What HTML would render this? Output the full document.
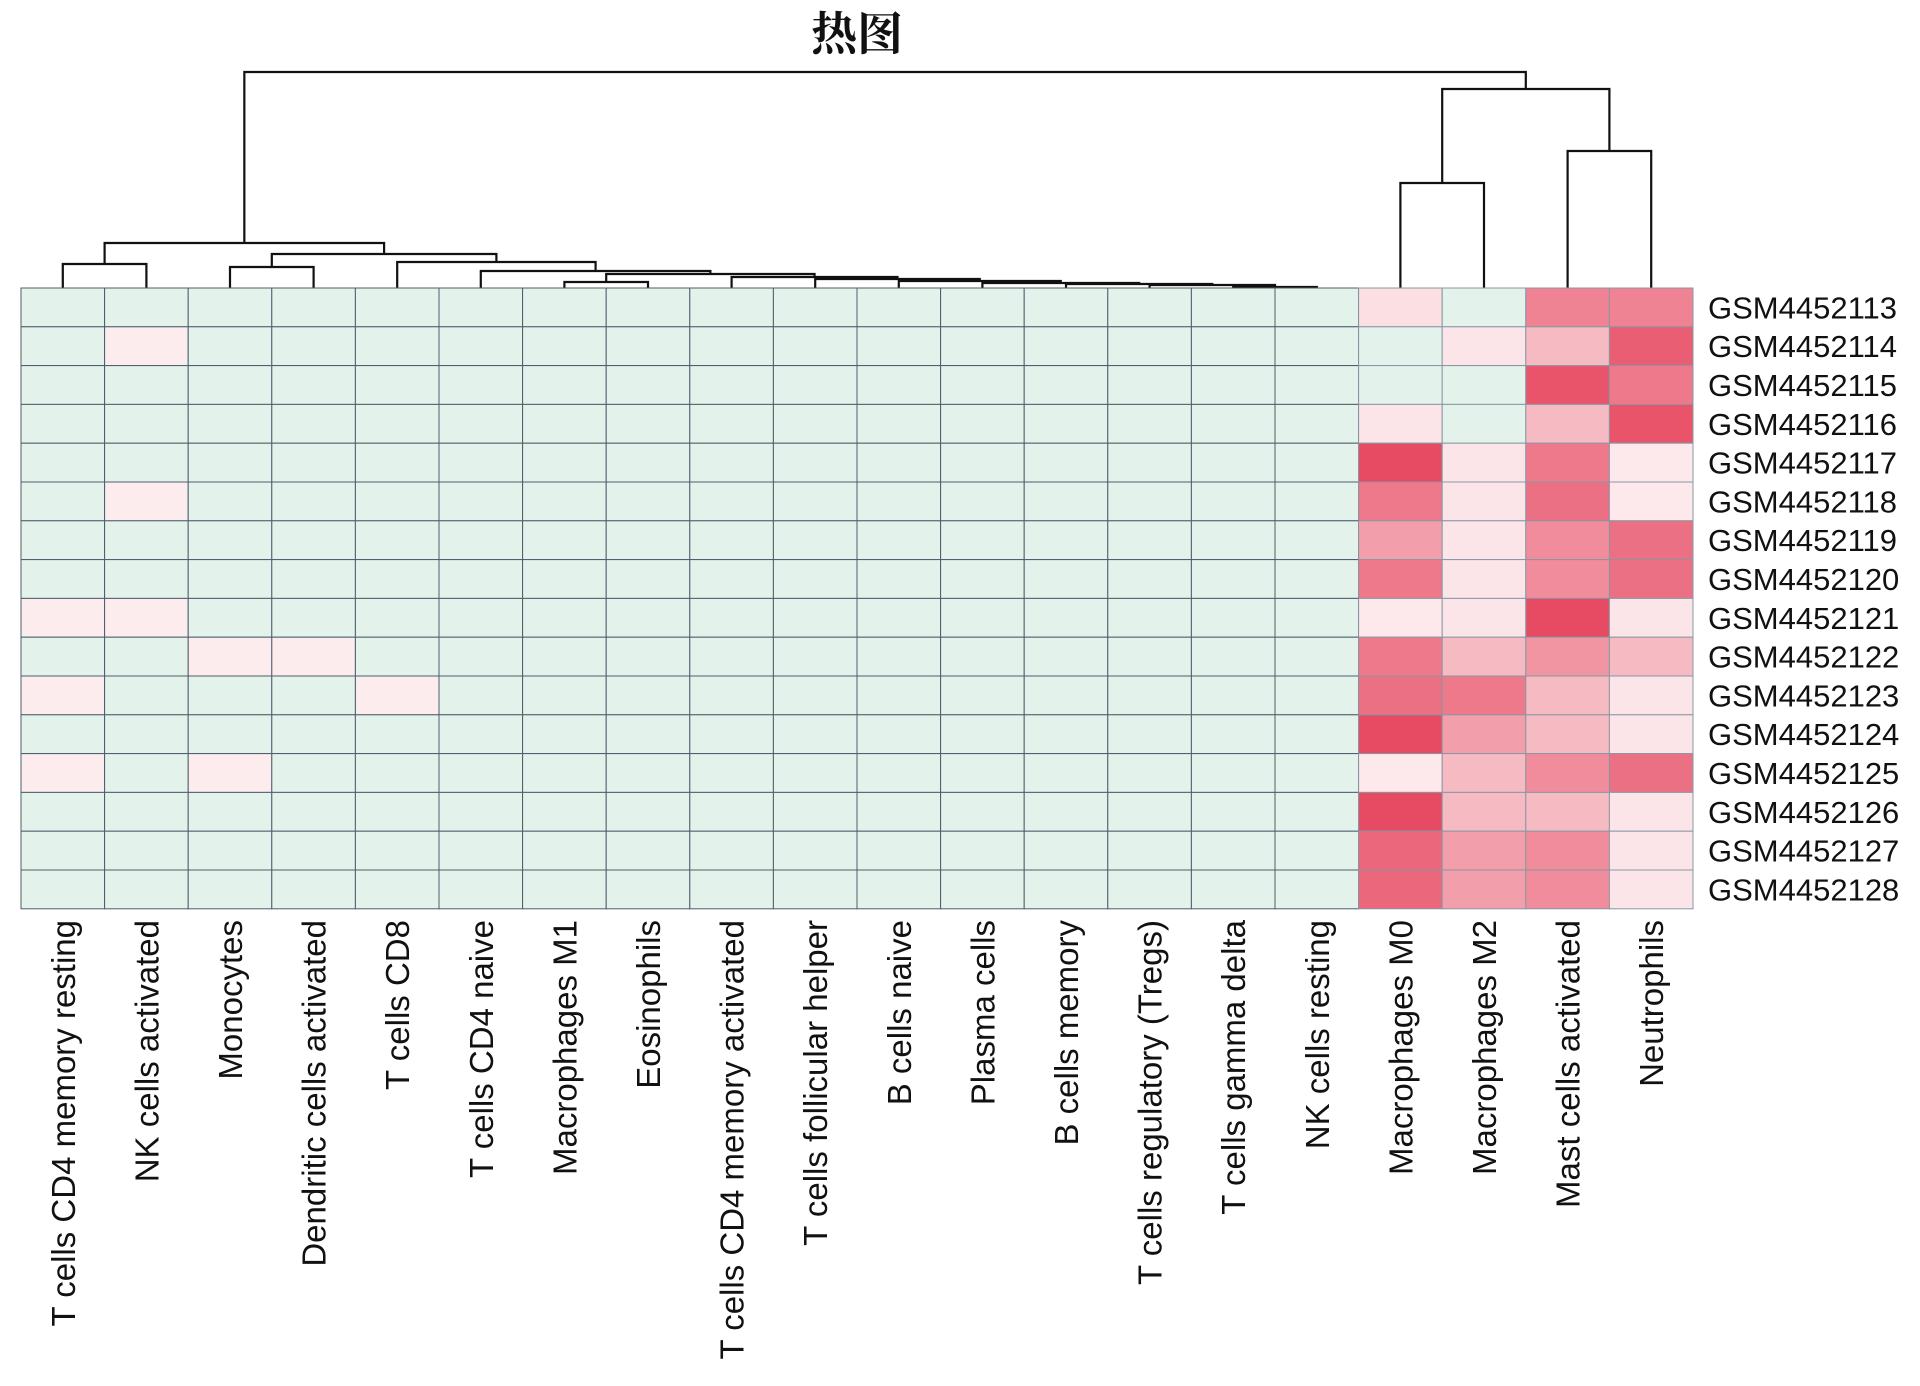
<!DOCTYPE html>
<html><head><meta charset="utf-8"><style>
html,body{margin:0;padding:0;background:#fff;}
svg{display:block;}
text{font-family:"Liberation Sans","Noto Sans CJK SC",sans-serif;fill:#111;}
</style></head><body>
<svg id="chart" width="1920" height="1386" viewBox="0 0 1920 1386" xmlns="http://www.w3.org/2000/svg">
<text x="857" y="50" text-anchor="middle" style="font-family:'Liberation Serif','Noto Serif CJK SC',serif;font-weight:bold;font-size:46px;">热图</text>
<g id="dendro"></g>
<g id="cells"></g>
<g id="rowlabels"></g>
<g id="collabels"></g>
</svg>
<script>
const columns = ["T cells CD4 memory resting","NK cells activated","Monocytes","Dendritic cells activated","T cells CD8","T cells CD4 naive","Macrophages M1","Eosinophils","T cells CD4 memory activated","T cells follicular helper","B cells naive","Plasma cells","B cells memory","T cells regulatory (Tregs)","T cells gamma delta","NK cells resting","Macrophages M0","Macrophages M2","Mast cells activated","Neutrophils"];
const rows = ["GSM4452113","GSM4452114","GSM4452115","GSM4452116","GSM4452117","GSM4452118","GSM4452119","GSM4452120","GSM4452121","GSM4452122","GSM4452123","GSM4452124","GSM4452125","GSM4452126","GSM4452127","GSM4452128"];
// values for the 4 right-most columns (M0, M2, Mast activated, Neutrophils) per row
const colM0   = [0.15,0,0,0.12,0.95,0.7,0.5,0.7,0.1,0.7,0.75,0.95,0.1,0.95,0.8,0.8];
const colM2   = [0,0.12,0,0,0.12,0.12,0.12,0.12,0.12,0.35,0.7,0.5,0.35,0.35,0.5,0.5];
const colMast = [0.65,0.35,0.9,0.35,0.7,0.75,0.6,0.6,0.95,0.55,0.35,0.35,0.6,0.35,0.6,0.6];
const colNeut = [0.65,0.85,0.7,0.9,0.1,0.1,0.75,0.75,0.12,0.35,0.12,0.12,0.75,0.12,0.12,0.12];
// faint pink cells elsewhere: [row, col, value]
const faintCells = [[1,1,0.08],[5,1,0.08],[8,0,0.08],[8,1,0.08],[9,2,0.08],[9,3,0.08],[10,0,0.08],[10,4,0.08],[12,0,0.08],[12,2,0.08]];
// dendrogram merges: [left, right, height(px y)] ; nodes >=20 refer to earlier merges (20 + index)
const merges = [
 [0,1,264],[2,3,267],[6,7,282],[14,15,287],[13,23,285],[12,24,284],[11,25,283],[10,26,281],[9,27,279],[8,28,277],[22,29,274],[5,30,271],[4,31,262],[21,32,254],[20,33,243],[16,17,183],[18,19,151],[35,36,89],[34,37,72]
];

const X0=21, Y0=288, CW=83.6, RH=38.8;
const xScale = i => X0 + i*CW;
const yScale = r => Y0 + r*RH;
const NS="http://www.w3.org/2000/svg";

function colorFor(v){
  if(v<=0) return "rgb(227,242,234)";
  const a=[253,236,238], b=[230,66,91];
  const t=Math.min(1,Math.max(0,(v-0.08)/0.92));
  return `rgb(${Math.round(a[0]+(b[0]-a[0])*t)},${Math.round(a[1]+(b[1]-a[1])*t)},${Math.round(a[2]+(b[2]-a[2])*t)})`;
}
const matrix = rows.map(()=>columns.map(()=>0));
faintCells.forEach(([r,c,v])=>{matrix[r][c]=v;});
rows.forEach((_,r)=>{matrix[r][16]=colM0[r];matrix[r][17]=colM2[r];matrix[r][18]=colMast[r];matrix[r][19]=colNeut[r];});

const cells=document.getElementById('cells');
rows.forEach((rn,r)=>{
  columns.forEach((cn,c)=>{
    const el=document.createElementNS(NS,'rect');
    el.setAttribute('x',xScale(c));el.setAttribute('y',yScale(r));
    el.setAttribute('width',CW);el.setAttribute('height',RH);
    el.setAttribute('fill',colorFor(matrix[r][c]));
    el.setAttribute('stroke',c>=16?'#8a97a3':'#4d5e6c');el.setAttribute('stroke-width','1');
    
    
    cells.appendChild(el);
  });
});

const rl=document.getElementById('rowlabels');
rows.forEach((rn,r)=>{
  const t=document.createElementNS(NS,'text');
  t.setAttribute('x',1708);t.setAttribute('y',yScale(r)+RH/2+11);
  t.setAttribute('font-size','31');
  t.textContent=rn;
  
  
  rl.appendChild(t);
});
const cl=document.getElementById('collabels');
columns.forEach((cn,c)=>{
  const cx=xScale(c)+CW/2+12, cy=920;
  const t=document.createElementNS(NS,'text');
  t.setAttribute('x',cx);t.setAttribute('y',cy);
  t.setAttribute('font-size','33');
  t.setAttribute('text-anchor','end');
  t.setAttribute('transform',`rotate(-90 ${cx} ${cy})`);
  t.textContent=cn;
  
  
  cl.appendChild(t);
});

const dg=document.getElementById('dendro');
const nodeX=[],nodeY=[];
columns.forEach((_,c)=>{nodeX[c]=xScale(c)+CW/2;nodeY[c]=Y0;});
merges.forEach(([a,b,h],i)=>{
  const id=20+i;
  nodeX[id]=(nodeX[a]+nodeX[b])/2;nodeY[id]=h;
  const p=document.createElementNS(NS,'path');
  p.setAttribute('d',`M${nodeX[a]} ${nodeY[a]} V${h} H${nodeX[b]} V${nodeY[b]}`);
  p.setAttribute('fill','none');p.setAttribute('stroke','#111');p.setAttribute('stroke-width','2.2');
  
  
  dg.appendChild(p);
});
</script>
</body></html>
